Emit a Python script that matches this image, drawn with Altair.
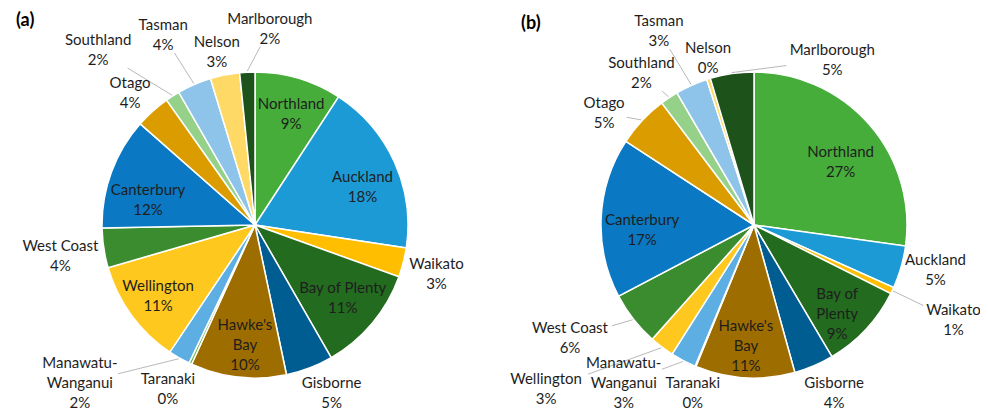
import math
import numpy as np
import pandas as pd
import altair as alt

# ---------------- data ----------------
regions = ["Northland", "Auckland", "Waikato", "Bay of Plenty", "Gisborne",
           "Hawke's Bay", "Taranaki", "Manawatu-Wanganui", "Wellington",
           "West Coast", "Canterbury", "Otago", "Southland", "Tasman",
           "Nelson", "Marlborough"]
colors = ["#46AD3A", "#1C9AD6", "#FFBF00", "#236B1F", "#005D91",
          "#9E6D00", "#72BE55", "#5DAEE3", "#FFC81E",
          "#3A8C2F", "#0A78C2", "#DB9C00", "#96D18A", "#8EC4E9",
          "#FFD966", "#1D521B"]

share_a = [9.2, 18.2, 3.1, 11.2, 5.0, 10.1, 0.3, 2.3, 11.1, 4.2, 11.8, 3.7, 1.5, 3.6, 3.1, 1.6]
share_b = [27.2, 4.5, 0.7, 9.1, 4.2, 10.5, 0.1, 2.7, 2.6, 5.7, 16.9, 5.5, 1.9, 3.4, 0.4, 4.6]
pct_a = [9, 18, 3, 11, 5, 10, 0, 2, 11, 4, 12, 4, 2, 4, 3, 2]
pct_b = [27, 5, 1, 9, 4, 11, 0, 3, 3, 6, 17, 5, 2, 3, 0, 5]

names_a = ["Northland", "Auckland", "Waikato", "Bay of Plenty", "Gisborne",
           "Hawke's\nBay", "Taranaki", "Manawatu-\nWanganui", "Wellington",
           "West Coast", "Canterbury", "Otago", "Southland", "Tasman",
           "Nelson", "Marlborough"]
names_b = ["Northland", "Auckland", "Waikato", "Bay of\nPlenty", "Gisborne",
           "Hawke's\nBay", "Taranaki", "Manawatu-\nWanganui", "Wellington",
           "West Coast", "Canterbury", "Otago", "Southland", "Tasman",
           "Nelson", "Marlborough"]

# ---------------- label layout (angle nudge in degrees, radius in px, leader line) ----------------
nudge_a = [1.4, 4.7, 0.9, -0.3, -3.6, -1.5, 2.9, 18.2, 0, -0.4, -6.8, -1.4, -9.3, -2.4, -1.1, 7.2]
rad_a = [117, 114, 188, 114, 185, 120, 186, 236, 120, 197, 110, 182, 235, 211, 177, 197]
lead_a = [0, 0, 0, 0, 0, 0, 0, 1, 0, 0, 0, 1, 1, 1, 0, 1]

nudge_b = [5.1, -2.1, 0.1, 4, -2.5, 0.4, -2.5, 11.9, 14.6, 6.4, -5.3, -6.3, -2.9, -2.0, 1.9, 33.6]
rad_b = [107, 187, 221, 122, 186, 121, 179, 205, 265, 216, 112, 187, 189, 216, 173, 183]
lead_b = [0, 0, 1, 0, 0, 0, 0, 1, 1, 1, 0, 1, 1, 1, 0, 1]

R = 153
FONT = "Lato"
FS = 15
LH = 20


def pie(shares, pcts, names, nudges, radii, leads, cx, cy):
    s = np.array(shares, dtype=float)
    cum = np.cumsum(s)
    mid = (cum - s / 2) / s.sum() * 360.0
    df_arc = pd.DataFrame({"region": regions, "share": s, "order": range(len(s))})
    labels = [f"{n}\n{p}%" for n, p in zip(names, pcts)]
    lab_deg = mid + np.array(nudges)

    lab_rows = []
    lead_rows = []
    for i, lab in enumerate(labels):
        lines = lab.split("\n")
        a = math.radians(lab_deg[i])
        # centre of the label block
        L = np.array([cx + radii[i] * math.sin(a), cy - radii[i] * math.cos(a)])
        # Vega anchors the first line: move anchor up by half the block
        ax, ay = L[0], L[1] - (len(lines) - 1) * LH / 2
        r2 = math.hypot(ax - cx, ay - cy)
        t2 = math.atan2(ax - cx, cy - ay)
        lab_rows.append({"label": lab, "lab_rad": t2, "r": r2})
        if leads[i]:
            m = math.radians(mid[i])
            p1 = np.array([cx + (R + 1) * math.sin(m), cy - (R + 1) * math.cos(m)])
            w = max(len(t) for t in lines) * 3.9 + 3
            h = len(lines) * LH / 2 - 2
            d = p1 - L
            sx = w / abs(d[0]) if abs(d[0]) > 1e-6 else 1e9
            sy = h / abs(d[1]) if abs(d[1]) > 1e-6 else 1e9
            e = L + d * min(sx, sy)
            lead_rows.append({"x1": p1[0], "y1": p1[1], "x2": e[0], "y2": e[1]})
    df_lab = pd.DataFrame(lab_rows)
    df_lead = pd.DataFrame(lead_rows)

    arcs = alt.Chart(df_arc).mark_arc(outerRadius=R, stroke="white", strokeWidth=1.5).encode(
        theta=alt.Theta("share:Q", stack=True),
        order=alt.Order("order:Q"),
        color=alt.Color("region:N", scale=alt.Scale(domain=regions, range=colors), legend=None),
        x=alt.value(cx), y=alt.value(cy))
    leaders = alt.Chart(df_lead).mark_rule(color="#A6A6A6", strokeWidth=0.8).encode(
        x=alt.X("x1:Q", scale=None, axis=None),
        y=alt.Y("y1:Q", scale=None, axis=None),
        x2="x2:Q", y2="y2:Q")
    texts = alt.Chart(df_lab).mark_text(font=FONT, fontSize=FS, lineBreak="\n", lineHeight=LH,
                                        color="#1E1E1E", align="center", baseline="middle").encode(
        theta=alt.Theta("lab_rad:Q", scale=None, stack=False),
        radius=alt.Radius("r:Q", scale=None),
        text="label:N",
        x=alt.value(cx), y=alt.value(cy))
    return [arcs, leaders, texts]


layers = pie(share_a, pct_a, names_a, nudge_a, rad_a, lead_a, 247, 217) + \
         pie(share_b, pct_b, names_b, nudge_b, rad_b, lead_b, 746, 217)

tag_a = alt.Chart(pd.DataFrame({"t": ["(a)"]})).mark_text(
    font=FONT, fontSize=18, fontWeight="bold", align="left", baseline="middle", color="#000000").encode(
    text="t:N", x=alt.value(8), y=alt.value(13))
tag_b = alt.Chart(pd.DataFrame({"t": ["(b)"]})).mark_text(
    font=FONT, fontSize=18, fontWeight="bold", align="left", baseline="middle", color="#000000").encode(
    text="t:N", x=alt.value(513), y=alt.value(16))

chart = alt.layer(*layers, tag_a, tag_b).resolve_scale(theta="independent").properties(
    width=972, height=403,
    autosize=alt.AutoSizeParams(type="none"),
    padding=0,
).configure(background="white").configure_view(stroke=None)

chart.save("out.html", embed_options={"renderer": "svg", "actions": False})
